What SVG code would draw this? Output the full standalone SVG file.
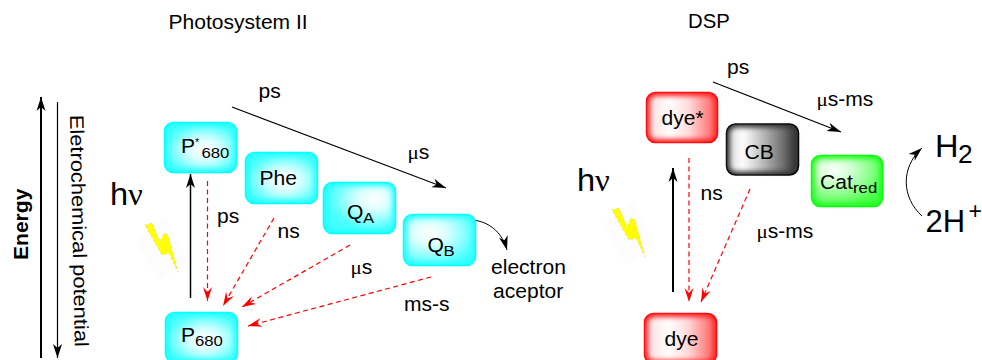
<svg xmlns="http://www.w3.org/2000/svg" width="982" height="360" viewBox="0 0 982 360">
<style>
text{font-family:"Liberation Sans",Arial,sans-serif;fill:#000;font-size:19.500px}
.g{font-family:"Liberation Serif","Times New Roman",serif}
.sub{font-size:15.500px}
.big{font-size:31px}
.bs{font-size:25px}
.b{stroke-width:1.500}
.c{stroke:#0ff;fill:#2ff}.r{stroke:#f00;fill:#f22}.k{stroke:#000;fill:#333}.n{stroke:#0f0;fill:#2f2}
.i{filter:url(#soft)}
.s{fill:none;stroke:#000}
.d{fill:none;stroke:#f00;stroke-width:1.200;stroke-dasharray:5 3.500}
</style>
<defs>
<filter id="soft" x="-20%" y="-20%" width="140%" height="140%"><feGaussianBlur stdDeviation="2.500"/></filter>
<marker id="ak" markerUnits="userSpaceOnUse" markerWidth="18" markerHeight="14" refX="14" refY="6" orient="auto"><path d="M0 1.500L14 6L0 10.500L4 6Z" fill="#000"/></marker>
<marker id="ar" markerUnits="userSpaceOnUse" markerWidth="18" markerHeight="14" refX="14" refY="6" orient="auto"><path d="M0 1.500L14 6L0 10.500L5 6Z" fill="#f00"/></marker>
<radialGradient id="c1" cx=".55" cy=".55" r=".6"><stop offset="0" stop-color="#fff"/><stop offset=".4" stop-color="#dff"/><stop offset="1" stop-color="#4ff"/></radialGradient>
<radialGradient id="c2" cx=".72" cy=".3" r=".7"><stop offset="0" stop-color="#fff"/><stop offset=".35" stop-color="#dff"/><stop offset="1" stop-color="#4ff"/></radialGradient>
<radialGradient id="c3" cx=".35" cy=".35" r=".75"><stop offset="0" stop-color="#fff"/><stop offset=".35" stop-color="#dff"/><stop offset="1" stop-color="#4ff"/></radialGradient>
<linearGradient id="r1"><stop offset="0" stop-color="#fdd"/><stop offset=".3" stop-color="#fff"/><stop offset=".6" stop-color="#fdd"/><stop offset="1" stop-color="#f66"/></linearGradient>
<radialGradient id="g1" cx=".3" cy=".25" r=".85"><stop offset="0" stop-color="#fff"/><stop offset=".35" stop-color="#cfc"/><stop offset="1" stop-color="#4f4"/></radialGradient>
<linearGradient id="k1"><stop offset="0" stop-color="#ddd"/><stop offset=".2" stop-color="#fff"/><stop offset=".5" stop-color="#bbb"/><stop offset=".85" stop-color="#666"/><stop offset="1" stop-color="#333"/></linearGradient>
</defs>

<text id="title-psii" transform="translate(168.500 28.500) scale(1.08 1)">Photosystem II</text>
<text id="title-dsp" transform="translate(688 28) scale(1.04 1)">DSP</text>
<text id="energy" transform="translate(27.500 260) rotate(-90) scale(1.08 1)" style="font-weight:bold">Energy</text>
<text id="potential" transform="translate(70 115) rotate(88.800)" textLength="232" lengthAdjust="spacingAndGlyphs">Eletrochemical potential</text>

<g id="bolts">
<polygon points="135,240 165,216 188,262 160,280" fill="#fcfcfc"/>
<polygon points="145,225 152,223 160,242 164,233 168,235 178,272 169,253 162,255" fill="#ff0" stroke="#aa9" stroke-width=".6" stroke-dasharray="1 4"/>
<polygon points="602,225 632,201 655,247 627,265" fill="#fcfcfc"/>
<polygon points="612,210 619,208 627,227 631,218 635,220 645,257 636,238 629,240" fill="#ff0" stroke="#aa9" stroke-width=".6" stroke-dasharray="1 4"/>
</g>

<g id="connectors">
<path class="s" stroke-width="2" d="M41 358V97" marker-end="url(#ak)"/>
<path class="s" stroke-width="1.200" d="M57.500 102V358" marker-end="url(#ak)"/>
<path class="s" stroke-width="1.500" d="M190.500 298V174" marker-end="url(#ak)"/>
<path class="s" stroke-width="1.200" d="M232 107L446 188" marker-end="url(#ak)"/>
<path class="s" stroke-width="1" d="M458 221C482 216 501 228 507 250" marker-end="url(#ak)"/>
<path class="d" d="M207.500 181V301" marker-end="url(#ar)"/>
<path class="d" d="M274 218L223 306" marker-end="url(#ar)"/>
<path class="d" d="M350 245L242 307" marker-end="url(#ar)"/>
<path class="d" d="M431 277L248 326" marker-end="url(#ar)"/>
<path class="s" stroke-width="2" d="M673 292V168" marker-end="url(#ak)"/>
<path class="d" d="M689 158V302" marker-end="url(#ar)"/>
<path class="d" d="M750 189L701 302" marker-end="url(#ar)"/>
<path class="s" stroke-width="1.200" d="M713 82L841 132" marker-end="url(#ak)"/>
<path class="s" stroke-width="1" d="M922 216C902 198 900 168 922 148" marker-end="url(#ak)"/>
</g>

<g id="p680-star"><rect class="b c" x="164.500" y="122.500" width="72" height="50" rx="9"/><rect class="i" x="168" y="126" width="65" height="43" rx="6" fill="url(#c1)"/><text transform="translate(181 153) scale(1.08 1)">P<tspan dy="-7" style="font-size:10px">*</tspan></text><text class="sub" transform="translate(201.500 158) scale(1.08 1)">680</text></g>
<g id="phe"><rect class="b c" x="245.500" y="152.500" width="72" height="51" rx="9"/><rect class="i" x="249" y="156" width="65" height="44" rx="6" fill="url(#c1)"/><text transform="translate(259.500 185) scale(1.08 1)">Phe</text></g>
<g id="qa"><rect class="b c" x="323.500" y="182.500" width="72" height="51" rx="9"/><rect class="i" x="327" y="186" width="65" height="44" rx="6" fill="url(#c2)"/><text transform="translate(347 219) scale(1.08 1)">Q</text><text class="sub" transform="translate(363 223) scale(1.08 1)">A</text></g>
<g id="qb"><rect class="b c" x="403.500" y="214.500" width="72" height="51" rx="9"/><rect class="i" x="407" y="218" width="65" height="44" rx="6" fill="url(#c3)"/><text transform="translate(427.500 252) scale(1.08 1)">Q</text><text class="sub" transform="translate(443.500 256) scale(1.08 1)">B</text></g>
<g id="p680"><rect class="b c" x="165.500" y="312.500" width="72" height="50" rx="9"/><rect class="i" x="169" y="316" width="65" height="43" rx="6" fill="url(#c1)"/><text transform="translate(181 341.500) scale(1.08 1)">P</text><text class="sub" transform="translate(195 345.500) scale(1.08 1)">680</text></g>
<g id="dye-star"><rect class="b r" x="646.500" y="92.500" width="71" height="50" rx="9"/><rect class="i" x="650" y="96" width="64" height="43" rx="6" fill="url(#r1)"/><text transform="translate(661.500 125) scale(1.08 1)">dye*</text></g>
<g id="cb"><rect class="b k" x="726.500" y="124" width="72" height="51" rx="9"/><rect class="i" x="730" y="127.500" width="65" height="44" rx="6" fill="url(#k1)"/><text transform="translate(744.500 159) scale(1.08 1)">CB</text></g>
<g id="cat"><rect class="b n" x="811.500" y="155.500" width="71" height="51" rx="9"/><rect class="i" x="815" y="159" width="64" height="44" rx="6" fill="url(#g1)"/><text transform="translate(820 189) scale(1.08 1)">Cat</text><text class="sub" transform="translate(853 193) scale(1.08 1)">red</text></g>
<g id="dye"><rect class="b r" x="644.500" y="313.500" width="72" height="50" rx="9"/><rect class="i" x="648" y="317" width="65" height="43" rx="6" fill="url(#r1)"/><text transform="translate(664.500 346) scale(1.08 1)">dye</text></g>

<g id="labels">
<text transform="translate(258.500 98) scale(1.08 1)">ps</text>
<text transform="translate(407.500 159) scale(1.08 1)"><tspan class="g">μ</tspan>s</text>
<text transform="translate(217 222.500) scale(1.08 1)">ps</text>
<text transform="translate(277.500 238) scale(1.08 1)">ns</text>
<text transform="translate(350.500 274) scale(1.08 1)"><tspan class="g">μ</tspan>s</text>
<text transform="translate(404 310.500) scale(1.08 1)">ms-s</text>
<text transform="translate(491 274) scale(1.08 1)">electron</text>
<text transform="translate(493 298) scale(1.08 1)">aceptor</text>
<text transform="translate(727 74) scale(1.08 1)">ps</text>
<text transform="translate(816.500 106) scale(1.08 1)"><tspan class="g">μ</tspan>s-ms</text>
<text transform="translate(700.500 200) scale(1.08 1)">ns</text>
<text transform="translate(756.500 238) scale(1.08 1)"><tspan class="g">μ</tspan>s-ms</text>
<text class="big" transform="translate(110 205) scale(1.05 1)">h<tspan class="g">ν</tspan></text>
<text class="big" transform="translate(577 190.500) scale(1.05 1)">h<tspan class="g">ν</tspan></text>
<text class="big" transform="translate(935 157) scale(1.05 1)">H</text>
<text class="bs" transform="translate(958 163) scale(1.05 1)">2</text>
<text class="big" transform="translate(925.500 232)">2H</text>
<text class="bs" style="font-size:23px" transform="translate(968.500 219)">+</text>
</g>
</svg>
